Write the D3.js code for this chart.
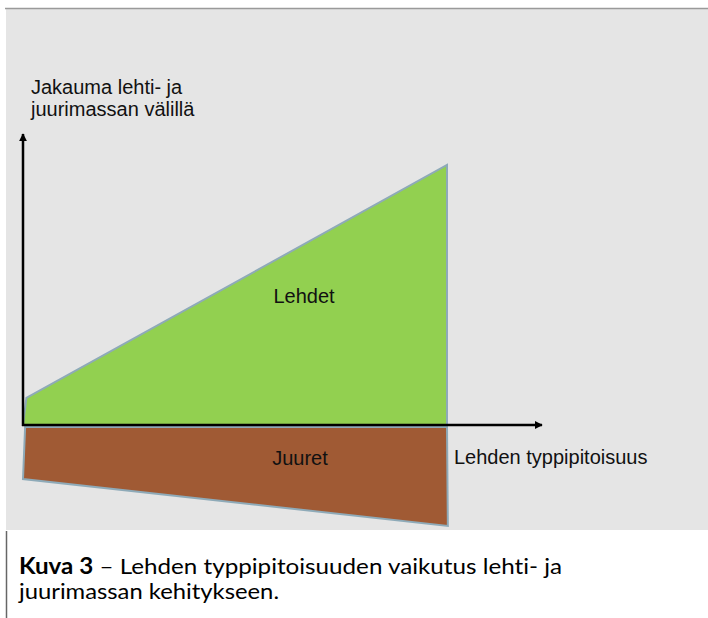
<!DOCTYPE html>
<html>
<head>
<meta charset="utf-8">
<script src="https://cdn.jsdelivr.net/npm/d3@7"></script>
<style>
  body { margin: 0; background: #fff; }
  svg { display: block; }
  text { font-variant-ligatures: none; font-feature-settings: "liga" 0, "clig" 0; }
</style>
</head>
<body>
<svg width="708" height="618"></svg>
<script>
// leaf / root share as function of leaf nitrogen (relative units)
let leafN = [0, 0.008, 1, 1];
let leafShare = [0, 0.104, 1, 0];
let rootN = [0.005, 1, 1.002, 0];
let rootShare = [-0.008, -0.008, -0.388, -0.208];
let axisEnd = {x: 1.224, y: 1.119};

let labels = {
  y: ["Jakauma lehti- ja", "juurimassan välillä"],
  x: "Lehden typpipitoisuus",
  leaf: "Lehdet",
  root: "Juuret"
};
let captionBold = "Kuva 3";
let captionRest = " – Lehden typpipitoisuuden vaikutus lehti- ja";
let captionLine2 = "juurimassan kehitykseen.";

let svg = d3.select("svg");

let x = d3.scaleLinear().domain([0, 1]).range([23, 447]);
let y = d3.scaleLinear().domain([0, 1]).range([425, 165]);

// background panel
svg.append("rect")
  .attr("x", 6).attr("y", 8)
  .attr("width", 702).attr("height", 522)
  .attr("fill", "#e5e5e5");
svg.append("line")
  .attr("x1", 5).attr("x2", 708)
  .attr("y1", 8.5).attr("y2", 8.5)
  .attr("stroke", "#9a9a9a").attr("stroke-width", 1.5);

let line = d3.line()
  .x(function (d) { return x(d[0]); })
  .y(function (d) { return y(d[1]); });

svg.append("path")
  .datum(d3.zip(rootN, rootShare))
  .attr("d", function (d) { return line(d) + "Z"; })
  .attr("fill", "#a05a34")
  .attr("stroke", "#8eaab8")
  .attr("stroke-width", 2);

svg.append("path")
  .datum(d3.zip(leafN, leafShare))
  .attr("d", function (d) { return line(d) + "Z"; })
  .attr("fill", "#92d050")
  .attr("stroke", "#8eaab8")
  .attr("stroke-width", 2);

// arrow axes
svg.append("defs").append("marker")
  .attr("id", "arrow")
  .attr("viewBox", "0 0 10 10")
  .attr("refX", 9).attr("refY", 5)
  .attr("markerWidth", 3.2).attr("markerHeight", 3.2)
  .attr("orient", "auto")
  .append("path")
  .attr("d", "M0,0L10,5L0,10Z")
  .attr("fill", "#000");

svg.append("line")
  .attr("x1", x(0) - 1).attr("y1", y(0))
  .attr("x2", x(axisEnd.x)).attr("y2", y(0))
  .attr("stroke", "#000").attr("stroke-width", 2.5)
  .attr("marker-end", "url(#arrow)");
svg.append("line")
  .attr("x1", x(0)).attr("y1", y(0) + 1)
  .attr("x2", x(0)).attr("y2", y(axisEnd.y))
  .attr("stroke", "#000").attr("stroke-width", 2.5)
  .attr("marker-end", "url(#arrow)");

let font = "'Liberation Sans', Arial, sans-serif";

svg.selectAll(".ylab")
  .data(labels.y)
  .enter()
  .append("text")
  .attr("class", "ylab")
  .attr("x", 31)
  .attr("y", function (d, i) { return 94 + i * 22; })
  .attr("font-family", font).attr("font-size", 20)
  .attr("fill", "#111")
  .text(function (d) { return d; });

svg.append("text")
  .attr("x", 454).attr("y", 464)
  .attr("font-family", font).attr("font-size", 20)
  .attr("fill", "#111")
  .text(labels.x);

svg.append("text")
  .attr("x", 304).attr("y", 303)
  .attr("text-anchor", "middle")
  .attr("font-family", font).attr("font-size", 20)
  .attr("fill", "#111")
  .text(labels.leaf);

svg.append("text")
  .attr("x", 300).attr("y", 465)
  .attr("text-anchor", "middle")
  .attr("font-family", font).attr("font-size", 20)
  .attr("fill", "#111")
  .text(labels.root);

// caption
svg.append("line")
  .attr("x1", 6.5).attr("x2", 6.5)
  .attr("y1", 531).attr("y2", 618)
  .attr("stroke", "#666").attr("stroke-width", 1.5);

let cap1 = svg.append("text")
  .attr("x", 19).attr("y", 574)
  .attr("font-family", "Lato, sans-serif").attr("font-size", 22)
  .attr("fill", "#000")
  .attr("textLength", 543)
  .attr("lengthAdjust", "spacingAndGlyphs");
cap1.append("tspan").attr("font-weight", "bold").text(captionBold);
cap1.append("tspan").text(captionRest);

svg.append("text")
  .attr("x", 19).attr("y", 599)
  .attr("font-family", "Lato, sans-serif").attr("font-size", 22)
  .attr("fill", "#000")
  .attr("textLength", 260)
  .attr("lengthAdjust", "spacingAndGlyphs")
  .text(captionLine2);
</script>
</body>
</html>
